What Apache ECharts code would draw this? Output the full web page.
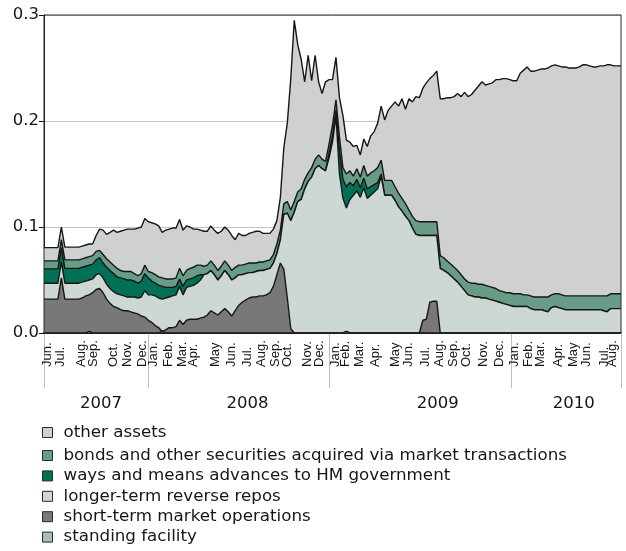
<!DOCTYPE html>
<html>
<head>
<meta charset="utf-8">
<script src="https://cdn.jsdelivr.net/npm/echarts@6/dist/echarts.min.js"></script>
<style>
  html, body { margin: 0; padding: 0; background: #fff; }
  #chart { width: 626px; height: 551px; }
</style>
</head>
<body>
<div id="chart"></div>
<script>
// Weekly observations (Wednesdays) from 6 June 2007 to 11 August 2010, £ trillions
const WEEK_COUNT = 167;

// Stack order, bottom to top
const standingFacility = [
  0,0,0,0,0,0,0,0,0,0,
  0,0,0,0.0015,0,0,0,0,0,0,
  0,0,0,0,0,0,0,0,0,0,
  0,0,0,0,0.0015,0,0,0,0,0,
  0,0,0,0,0,0,0,0,0,0,
  0,0,0,0,0,0,0,0,0,0,
  0,0,0,0,0,0,0,0,0,0,
  0,0,0,0,0,0,0,0,0,0,
  0,0,0,0,0,0,0,0.0015,0,0,
  0,0,0,0,0,0,0,0,0,0,
  0,0,0,0,0,0,0,0,0,0,
  0,0,0,0,0,0,0,0,0,0,
  0,0,0,0,0,0,0,0,0,0,
  0,0,0,0,0,0,0,0,0,0,
  0,0,0,0,0,0,0,0,0,0,
  0,0,0,0,0,0,0,0,0,0,
  0,0,0,0,0,0,0
];

const shortTermOps = [
  0.032,0.032,0.032,0.032,0.032,0.052,0.032,0.032,0.032,0.032,
  0.032,0.033,0.035,0.0345,0.038,0.041,0.042,0.038,0.032,0.028,
  0.025,0.024,0.022,0.021,0.021,0.020,0.019,0.018,0.016,0.015,
  0.012,0.010,0.007,0.005,0,0.003,0.005,0.005,0.006,0.012,
  0.008,0.012,0.013,0.013,0.013,0.014,0.015,0.017,0.021,0.019,
  0.017,0.020,0.023,0.020,0.016,0.021,0.026,0.029,0.031,0.033,
  0.034,0.034,0.035,0.035,0.036,0.038,0.044,0.055,0.066,0.060,
  0.033,0.004,0,0,0,0,0,0,0,0,
  0,0,0,0,0,0,0,0,0,0,
  0,0,0,0,0,0,0,0,0,0,
  0,0,0,0,0,0,0,0,0,0.012,
  0.013,0.029,0.030,0.030,0,0,0,0,0,0,
  0,0,0,0,0,0,0,0,0,0,
  0,0,0,0,0,0,0,0,0,0,
  0,0,0,0,0,0,0,0,0,0,
  0,0,0,0,0,0,0,0,0,0,
  0,0,0,0,0,0,0
];

const longerTermRepos = [
  0.015,0.015,0.015,0.015,0.015,0.015,0.015,0.015,0.015,0.015,
  0.015,0.015,0.014,0.014,0.013,0.014,0.014,0.014,0.014,0.014,
  0.014,0.013,0.014,0.014,0.013,0.014,0.015,0.015,0.018,0.025,
  0.024,0.026,0.028,0.028,0.0305,0.030,0.029,0.030,0.030,0.032,
  0.028,0.031,0.031,0.032,0.034,0.036,0.040,0.039,0.038,0.036,
  0.033,0.034,0.036,0.035,0.034,0.031,0.029,0.026,0.025,0.024,
  0.023,0.024,0.024,0.024,0.024,0.023,0.022,0.020,0.022,0.052,
  0.080,0.102,0.114,0.124,0.126,0.136,0.143,0.147,0.155,0.158,
  0.155,0.153,0.165,0.180,0.205,0.150,0.127,0.1165,0.126,0.130,
  0.134,0.128,0.137,0.127,0.130,0.133,0.136,0.148,0.130,0.130,
  0.130,0.125,0.119,0.115,0.110,0.106,0.099,0.093,0.092,0.080,
  0.079,0.063,0.062,0.062,0.061,0.059,0.057,0.054,0.051,0.048,
  0.044,0.040,0.036,0.035,0.034,0.034,0.033,0.033,0.032,0.031,
  0.030,0.029,0.028,0.027,0.026,0.025,0.025,0.025,0.025,0.025,
  0.023,0.022,0.022,0.022,0.021,0.020,0.024,0.025,0.024,0.023,
  0.022,0.022,0.022,0.022,0.022,0.022,0.022,0.022,0.022,0.022,
  0.022,0.021,0.020,0.023,0.023,0.023,0.023
];

const waysAndMeans = [
  0.0135,0.0135,0.0135,0.0135,0.0135,0.0135,0.014,0.014,0.014,0.014,
  0.014,0.014,0.014,0.014,0.014,0.014,0.015,0.014,0.016,0.017,
  0.017,0.016,0.016,0.016,0.016,0.016,0.015,0.014,0.015,0.016,
  0.016,0.013,0.012,0.012,0.012,0.010,0.009,0.008,0.008,0.007,
  0.008,0.007,0.007,0.007,0.007,0.005,0,0,0,0,
  0,0,0,0,0,0,0,0,0,0,
  0,0,0,0,0,0,0,0,0,0,
  0,0,0,0,0,0,0,0,0,0,
  0,0,0.005,0.006,0.005,0.022,0.018,0.020,0.016,0.009,
  0.011,0.009,0.009,0.009,0.008,0.007,0.006,0.002,0,0,
  0,0,0,0,0,0,0,0,0,0,
  0,0,0,0,0,0,0,0,0,0,
  0,0,0,0,0,0,0,0,0,0,
  0,0,0,0,0,0,0,0,0,0,
  0,0,0,0,0,0,0,0,0,0,
  0,0,0,0,0,0,0,0,0,0,
  0,0,0,0,0,0,0
];

const bondsSecurities = [
  0.0075,0.0075,0.0075,0.0075,0.0075,0.0075,0.008,0.008,0.008,0.008,
  0.008,0.008,0.008,0.008,0.008,0.008,0.007,0.008,0.008,0.008,
  0.008,0.008,0.007,0.007,0.008,0.008,0.007,0.007,0.007,0.008,
  0.006,0.008,0.008,0.008,0.008,0.008,0.008,0.008,0.008,0.010,
  0.010,0.009,0.010,0.010,0.010,0.009,0.008,0.008,0.009,0.009,
  0.009,0.009,0.009,0.009,0.009,0.010,0.009,0.009,0.009,0.009,
  0.009,0.008,0.008,0.008,0.008,0.008,0.008,0.009,0.009,0.010,
  0.011,0.010,0.010,0.009,0.010,0.009,0.008,0.009,0.009,0.010,
  0.009,0.009,0.008,0.010,0.010,0.013,0.011,0.012,0.011,0.009,
  0.010,0.010,0.012,0.012,0.013,0.013,0.014,0.013,0.014,0.014,
  0.014,0.013,0.013,0.012,0.012,0.010,0.011,0.013,0.013,0.013,
  0.013,0.013,0.013,0.013,0.012,0.012,0.011,0.011,0.011,0.011,
  0.011,0.011,0.012,0.012,0.013,0.012,0.013,0.012,0.012,0.012,
  0.012,0.011,0.011,0.011,0.012,0.012,0.012,0.012,0.011,0.011,
  0.012,0.012,0.012,0.012,0.013,0.014,0.012,0.012,0.013,0.013,
  0.013,0.013,0.013,0.013,0.013,0.013,0.013,0.013,0.013,0.013,
  0.013,0.014,0.015,0.014,0.014,0.014,0.014
];

const otherAssets = [
  0.0125,0.0125,0.0125,0.0125,0.0125,0.012,0.012,0.012,0.012,0.012,
  0.012,0.012,0.012,0.012,0.011,0.015,0.020,0.023,0.023,0.028,
  0.033,0.034,0.037,0.039,0.040,0.040,0.042,0.045,0.044,0.044,
  0.047,0.047,0.048,0.048,0.043,0.046,0.047,0.048,0.047,0.046,
  0.043,0.042,0.039,0.036,0.034,0.033,0.033,0.032,0.033,0.033,
  0.035,0.033,0.032,0.033,0.033,0.026,0.030,0.028,0.027,0.028,
  0.029,0.030,0.029,0.027,0.026,0.025,0.024,0.022,0.031,0.053,
  0.074,0.124,0.171,0.139,0.122,0.092,0.111,0.082,0.098,0.069,
  0.062,0.075,0.061,0.043,0.040,0.037,0.049,0.032,0.027,0.028,
  0.022,0.021,0.025,0.028,0.035,0.037,0.042,0.051,0.057,0.066,
  0.070,0.080,0.082,0.094,0.089,0.105,0.108,0.117,0.117,0.126,
  0.131,0.135,0.138,0.142,0.148,0.150,0.154,0.157,0.161,0.167,
  0.168,0.176,0.175,0.178,0.182,0.187,0.191,0.189,0.191,0.193,
  0.197,0.199,0.201,0.202,0.201,0.201,0.201,0.208,0.212,0.215,
  0.212,0.213,0.214,0.215,0.215,0.216,0.216,0.216,0.215,0.215,
  0.216,0.215,0.215,0.215,0.216,0.218,0.218,0.217,0.216,0.216,
  0.217,0.217,0.218,0.216,0.215,0.215,0.215
];

// Month tick labels along the date axis
const monthLabelDates = [
  '2007-06-13','2007-07-09','2007-08-20','2007-09-13','2007-10-24','2007-11-21','2007-12-21',
  '2008-01-13','2008-02-11','2008-03-10','2008-04-01','2008-05-17','2008-06-18','2008-07-19',
  '2008-08-17','2008-09-14','2008-10-08','2008-11-18','2008-12-12',
  '2009-01-12','2009-02-03','2009-03-02','2009-04-03','2009-05-13','2009-06-09','2009-07-14',
  '2009-08-11','2009-09-07','2009-10-04','2009-11-07','2009-12-10',
  '2010-01-09','2010-02-05','2010-03-01','2010-04-07','2010-05-07','2010-06-03','2010-07-09','2010-07-24'
];
const monthLabelTexts = [
  'Jun.','Jul.','Aug.','Sep.','Oct.','Nov.','Dec.',
  'Jan.','Feb.','Mar.','Apr.','May','Jun.','Jul.','Aug.','Sep.','Oct.','Nov.','Dec.',
  'Jan.','Feb.','Mar.','Apr.','May','Jun.','Jul.','Aug.','Sep.','Oct.','Nov.','Dec.',
  'Jan.','Feb.','Mar.','Apr.','May','Jun.','Jul.','Aug.'
];

// Year bands beneath the month labels
const yearEdgeDates = ['2007-06-06','2008-01-01','2009-01-01','2010-01-01','2010-08-11'];
const yearLabelDates = ['2007-09-29','2008-07-20','2009-08-07','2010-05-08'];
const yearLabelTexts = ['2007','2008','2009','2010'];

const AXIS_START = '2007-06-06';
const AXIS_END = '2010-08-11';

const DAY = 86400000;
const toTime = s => {
  const p = s.split('-').map(Number);
  return Date.UTC(p[0], p[1] - 1, p[2]);
};
const weeks = Array.from({ length: WEEK_COUNT }, (_, i) => toTime(AXIS_START) + i * 7 * DAY);

const monthText = new Map(monthLabelDates.map((d, i) => [toTime(d), monthLabelTexts[i]]));
const yearText = new Map(yearLabelDates.map((d, i) => [toTime(d), yearLabelTexts[i]]));

const SANS = "'DejaVu Sans', 'Liberation Sans', sans-serif";
const NARROW = "'Liberation Sans Narrow', 'Arial Narrow', 'Liberation Sans', sans-serif";
const INK = '#161616';

const layers = [
  { name: 'standing facility', data: standingFacility, color: '#a6c1b4' },
  { name: 'short-term market operations', data: shortTermOps, color: '#787878' },
  { name: 'longer-term reverse repos', data: longerTermRepos, color: '#cdd8d3' },
  { name: 'ways and means advances to HM government', data: waysAndMeans, color: '#007056' },
  { name: 'bonds and other securities acquired via market transactions', data: bondsSecurities, color: '#689c87' },
  { name: 'other assets', data: otherAssets, color: '#cfd0d0' }
];

const legendEntry = l => ({
  name: l.name,
  icon: 'rect',
  itemStyle: { color: l.color, borderColor: '#2a2a2a', borderWidth: 1 }
});
const legendBase = {
  orient: 'vertical',
  left: 42,
  padding: 0,
  itemWidth: 10,
  itemHeight: 10,
  selectedMode: false,
  textStyle: { fontFamily: SANS, fontSize: 16.7, color: INK, lineHeight: 16, padding: [0, 0, 0, 6] }
};
const legendOrder = layers.slice().reverse();

const axisRange = { min: toTime(AXIS_START), max: toTime(AXIS_END), position: 'bottom', splitLine: { show: false } };

// Month names sit on two interleaved label rows so neighbouring labels never collide
const monthAxis = parity => Object.assign({ type: 'value' }, axisRange, {
  axisLine: { show: false },
  axisTick: { show: false },
  axisLabel: {
    customValues: monthLabelDates.filter((_, i) => i % 2 === parity).map(toTime),
    formatter: v => monthText.get(v) || '',
    rotate: 90,
    align: 'left',
    verticalAlign: 'middle',
    margin: 34,
    fontFamily: NARROW,
    fontSize: 13,
    color: INK,
    hideOverlap: false,
    showMinLabel: true,
    showMaxLabel: true
  }
});

const chart = echarts.init(document.getElementById('chart'), null, { renderer: 'canvas' });
chart.setOption({
  animation: false,
  backgroundColor: '#ffffff',
  grid: {
    left: 44, right: 5, top: 15, bottom: 218, z: 20,
    show: true, borderColor: '#2b2b2b', borderWidth: 1, backgroundColor: 'transparent'
  },
  legend: [
    Object.assign({}, legendBase, { top: 424, data: [legendEntry(legendOrder[0])] }),
    Object.assign({}, legendBase, { top: 447, itemGap: 3.4, data: legendOrder.slice(1).map(legendEntry) })
  ],
  xAxis: [
    // date axis carrying the weekly series
    Object.assign({ type: 'time' }, axisRange, {
      axisLine: { show: true, lineStyle: { color: '#111', width: 2 } },
      axisTick: { show: false },
      axisLabel: { show: false }
    }),
    monthAxis(0),
    monthAxis(1),
    // year bands
    Object.assign({ type: 'value' }, axisRange, {
      axisLine: { show: false },
      axisTick: {
        show: true,
        customValues: yearEdgeDates.map(toTime),
        length: 55,
        lineStyle: { color: '#bdbdbd', width: 1 }
      },
      axisLabel: {
        customValues: yearLabelDates.map(toTime),
        formatter: v => yearText.get(v) || '',
        margin: 62,
        fontFamily: SANS,
        fontSize: 16.5,
        color: INK,
        hideOverlap: false,
        showMinLabel: true,
        showMaxLabel: true
      }
    })
  ],
  yAxis: {
    type: 'value',
    min: 0,
    max: 0.3,
    interval: 0.1,
    axisLine: { show: true, lineStyle: { color: '#111', width: 1 } },
    axisTick: { show: true, length: 5, lineStyle: { color: '#111' } },
    splitLine: { show: true, lineStyle: { color: '#c4c4c4', width: 1 } },
    axisLabel: {
      formatter: v => v.toFixed(1),
      margin: 5,
      fontFamily: SANS,
      fontSize: 16.5,
      color: INK,
      padding: [0, 0, 5, 0]
    }
  },
  series: layers.map((l, k) => ({
    name: l.name,
    type: 'line',
    stack: 'assets',
    xAxisIndex: 0,
    data: weeks.map((t, i) => [t, l.data[i]]),
    showSymbol: false,
    symbol: 'none',
    smooth: false,
    z: 2 + (layers.length - k),
    color: l.color,
    itemStyle: { color: l.color },
    lineStyle: { color: INK, width: 1.4 },
    areaStyle: { color: l.color, opacity: 1 },
    emphasis: { disabled: true },
    silent: true
  }))
});
</script>
</body>
</html>
